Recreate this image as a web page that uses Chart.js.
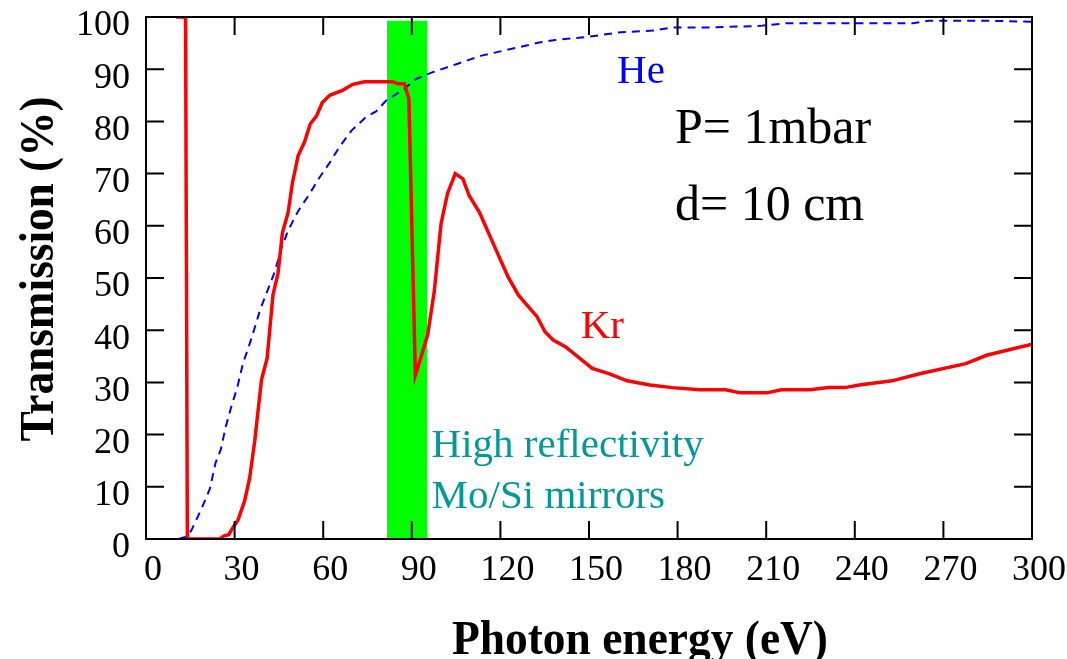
<!DOCTYPE html>
<html>
<head>
<meta charset="utf-8">
<script src="https://cdn.jsdelivr.net/npm/chart.js@4.4.1/dist/chart.umd.min.js"></script>
<style>
  html, body { margin: 0; padding: 0; background: #fff; }
  #wrap { width: 1067px; height: 659px; }
</style>
</head>
<body>
<div id="wrap"><canvas id="chart" width="1067" height="659"></canvas></div>
<script>
// photon energy (eV) and transmission (%)
const krEnergy = [10.2, 13.4, 14.0, 25.0, 26.5, 28.0, 29.0, 31.2, 33.4, 35.1,
  36.8, 39.1, 41.0, 43.0, 44.7, 46.2, 48.1, 49.6, 51.5, 53.7,
  55.6, 57.7, 59.7, 62.2, 66.7, 70.0, 74.0, 83.5, 85.3, 87.5,
  89.0, 91.2, 93.1, 95.4, 97.6, 99.9, 102.1, 104.7, 107.3, 109.4,
  112.9, 117.8, 122.6, 126.1, 132.4, 135.1, 137.9, 142.1, 151.1, 156.7,
  162.9, 170.6, 178.2, 187.3, 196.3, 201.2, 210.2, 215.1, 224.8, 231.1,
  236.6, 241.5, 252.6, 262.3, 277.6, 284.6, 300];
const krTrans = [100, 100, 0, 0, 0.6, 0.8, 1.8, 3.7, 7.3, 11.7,
  18.7, 30.5, 34.6, 46.8, 50.9, 58.7, 62.5, 68.3, 73.4, 76.1,
  79.5, 81.0, 83.6, 85.0, 86.0, 87.1, 87.6, 87.6, 87.2, 87.2,
  84.3, 31.4, 34.8, 39.2, 47.4, 60.4, 66.2, 70.0, 69.0, 65.8,
  62.6, 56.3, 50.2, 46.7, 42.6, 39.7, 38.1, 36.8, 32.7, 31.7,
  30.3, 29.5, 29.0, 28.6, 28.6, 28.0, 28.0, 28.6, 28.6, 29.0,
  29.0, 29.5, 30.3, 31.7, 33.6, 35.2, 37.3];

const heEnergy = [11, 14, 15.4, 18.8, 21.6, 23.6, 25.3, 27.0, 29.0, 30.9,
  32.9, 34.6, 36.5, 38.7, 41.3, 43.6, 45.8, 48.1, 51.5, 54.8,
  58.8, 62.2, 65.5, 69.5, 74.6, 77.9, 81.3, 86.9, 91.4, 96.9,
  105.3, 113.6, 126.1, 133.1, 138.6, 148.4, 160.9, 172.0, 178.2, 190.1,
  208.1, 216.5, 238.7, 259.6, 265.1, 283.2, 300];
const heTrans = [0, 0.5, 1.7, 5.8, 9.6, 14.7, 17.1, 21.5, 25.6, 29.0,
  33.8, 36.5, 39.9, 44.0, 47.8, 51.2, 55.6, 59.1, 62.8, 65.6,
  69.3, 72.1, 75.1, 78.2, 80.9, 81.9, 84.0, 86.0, 88.1, 89.4,
  91.0, 92.6, 94.2, 95.1, 95.6, 96.1, 97.1, 97.4, 98.0, 98.0,
  98.3, 98.8, 98.8, 98.8, 99.3, 99.3, 99.1];

// Mo/Si mirror band
const bandEnergy = [81.6, 95.2];
const bandTop = [99.3, 99.3];

const xTicks = [0, 30, 60, 90, 120, 150, 180, 210, 240, 270, 300];
const yTicks = [0, 10, 20, 30, 40, 50, 60, 70, 80, 90, 100];

const SERIF = "'Liberation Serif', 'Times New Roman', serif";
const TICK = 18;

const notes = [
  { text: 'He', x: 159.5, y: 87.4, color: '#0000ff', size: 41 },
  { text: 'Kr', x: 147.2, y: 38.6, color: '#ff0000', size: 41 },
  { text: 'P= 1mbar', x: 179.1, y: 75.8, color: '#000', size: 50 },
  { text: 'd= 10 cm', x: 179.1, y: 61.2, color: '#000', size: 50 },
  { text: 'High reflectivity', x: 96.7, y: 15.7, color: '#009999', size: 41 },
  { text: 'Mo/Si mirrors', x: 96.7, y: 5.9, color: '#009999', size: 41 },
];

const pts = (xs, ys) => xs.map((v, i) => ({ x: v, y: ys[i] }));

function fittedText(ctx, text, cx, cy, font, width, rotate) {
  ctx.save();
  ctx.translate(cx, cy);
  if (rotate) ctx.rotate(-Math.PI / 2);
  ctx.font = font;
  const w = ctx.measureText(text).width;
  ctx.scale(width / w, 1);
  ctx.textAlign = 'center';
  ctx.textBaseline = 'alphabetic';
  ctx.fillStyle = '#000';
  ctx.fillText(text, 0, 0);
  ctx.restore();
}

const framePlugin = {
  id: 'frame',
  afterDatasetsDraw(chart) {
    const { ctx, chartArea: a, scales: { x, y } } = chart;
    ctx.save();
    ctx.strokeStyle = '#000';
    ctx.lineWidth = 2;
    ctx.strokeRect(a.left, a.top, a.width, a.height);
    ctx.beginPath();
    x.ticks.forEach(t => {
      const px = x.getPixelForValue(t.value);
      ctx.moveTo(px, a.bottom); ctx.lineTo(px, a.bottom - TICK);
      ctx.moveTo(px, a.top); ctx.lineTo(px, a.top + TICK);
    });
    y.ticks.forEach(t => {
      const py = y.getPixelForValue(t.value);
      ctx.moveTo(a.left, py); ctx.lineTo(a.left + TICK, py);
      ctx.moveTo(a.right, py); ctx.lineTo(a.right - TICK, py);
    });
    ctx.stroke();

    ctx.textAlign = 'left';
    ctx.textBaseline = 'alphabetic';
    notes.forEach(n => {
      ctx.font = `${n.size}px ${SERIF}`;
      ctx.fillStyle = n.color;
      ctx.fillText(n.text, x.getPixelForValue(n.x), y.getPixelForValue(n.y));
    });
    ctx.restore();
  },
  afterDraw(chart) {
    const ctx = chart.ctx;
    fittedText(ctx, 'Photon energy (eV)', 640, 654, `bold 48px ${SERIF}`, 376, false);
    fittedText(ctx, 'Transmission (%)', 53, 269, `bold 49px ${SERIF}`, 345, true);
  }
};

new Chart(document.getElementById('chart'), {
  type: 'line',
  data: {
    datasets: [
      {
        label: 'Kr',
        data: pts(krEnergy, krTrans),
        borderColor: '#ff0000',
        borderWidth: 3.5,
        pointRadius: 0,
        tension: 0,
        order: 1,
      },
      {
        label: 'He',
        data: pts(heEnergy, heTrans),
        borderColor: '#0000ff',
        borderWidth: 2,
        borderDash: [8, 6],
        pointRadius: 0,
        tension: 0,
        order: 2,
      },
      {
        label: 'Mo/Si',
        data: pts(bandEnergy, bandTop),
        borderWidth: 0,
        borderColor: 'rgba(0,0,0,0)',
        backgroundColor: '#00ff00',
        fill: 'origin',
        pointRadius: 0,
        order: 3,
      },
    ],
  },
  options: {
    responsive: false,
    animation: false,
    layout: { padding: { top: 17, right: 35, left: 0, bottom: 0 } },
    plugins: { legend: { display: false }, tooltip: { enabled: false } },
    scales: {
      x: {
        type: 'linear',
        min: 0,
        max: 300,
        afterFit: s => {
          s.height = 120;
          s.paddingLeft = 0; s.paddingRight = 0;
        },
        afterBuildTicks: s => { s.ticks = xTicks.map(v => ({ value: v })); },
        grid: { display: false, drawTicks: false },
        border: { display: false },
        ticks: {
          autoSkip: false,
          maxRotation: 0,
          padding: 10,
          labelOffset: 7,
          color: '#000',
          font: { family: SERIF, size: 36 },
        },
      },
      y: {
        min: 0,
        max: 100,
        afterFit: s => {
          s.width = 146;
          s.paddingTop = 0; s.paddingBottom = 0;
        },
        afterBuildTicks: s => { s.ticks = yTicks.map(v => ({ value: v })); },
        grid: { display: false, drawTicks: false },
        border: { display: false },
        ticks: {
          autoSkip: false,
          padding: 16,
          labelOffset: 9,
          color: '#000',
          font: { family: SERIF, size: 36 },
        },
      },
    },
  },
  plugins: [framePlugin],
});
</script>
</body>
</html>
